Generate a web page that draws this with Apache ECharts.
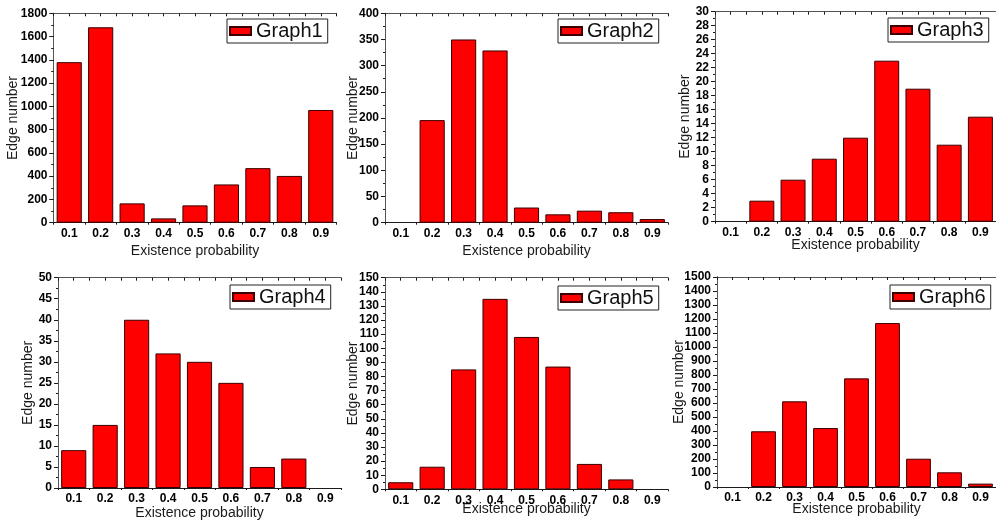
<!DOCTYPE html>
<html>
<head>
<meta charset="utf-8">
<script src="https://cdn.jsdelivr.net/npm/echarts@6/dist/echarts.min.js"></script>
<style>
  html, body { margin: 0; padding: 0; background: #fff; }
  #main { width: 996px; height: 527px; }
</style>
</head>
<body>
<div id="main"></div>
<script>
// x categories shared by every panel
var categories = ['0.1', '0.2', '0.3', '0.4', '0.5', '0.6', '0.7', '0.8', '0.9'];

// bar heights
var graph1 = [1380, 1680, 166, 37, 149, 329, 469, 402, 969];
var graph2 = [0, 196, 350, 329, 29, 16, 23, 20, 7];
var graph3 = [0, 3, 6, 9, 12, 23, 19, 11, 15];
var graph4 = [9, 15, 40, 32, 30, 25, 5, 7, 0];
var graph5 = [5, 16, 85, 135, 108, 87, 18, 7, 0];
var graph6 = [0, 398, 612, 421, 776, 1171, 202, 105, 24];

var names = ['Graph1', 'Graph2', 'Graph3', 'Graph4', 'Graph5', 'Graph6'];
var values = [graph1, graph2, graph3, graph4, graph5, graph6];
var yMax = [1800, 400, 30, 50, 150, 1500];
var yStep = [200, 50, 2, 5, 10, 100];

// layout of the six panels (px)
var grids = [
  [53.5, 13.3, 283, 209.4],
  [385, 13.3, 283, 209.4],
  [715, 11.7, 283, 210],
  [58, 277.7, 283, 210.3],
  [385, 277.7, 283, 211.6],
  [717, 277, 283, 210]
];
var yNameGap = [33, 25, 23, 23, 25, 31];
var xNameGap = [21, 21, 16, 18, 13, 15];
var legendPos = [[227, 19], [558, 19], [888, 18], [230, 285], [558, 286], [890, 285]];

var font = '"Liberation Sans", Arial, sans-serif';
var dark = '#1a1a1a';
var frame = '#555';

var option = {
  animation: false,
  backgroundColor: '#fff',
  grid: [], xAxis: [], yAxis: [], legend: [], series: []
};

for (var i = 0; i < 6; i++) {
  var g = grids[i];
  option.grid.push({ left: g[0], top: g[1], width: g[2], height: g[3], containLabel: false });

  // bottom category axis (bars + labels)
  option.xAxis.push({
    type: 'category', gridIndex: i, data: categories, position: 'bottom',
    name: 'Existence probability', nameLocation: 'middle', nameGap: xNameGap[i],
    nameMoveOverlap: false,
    nameTextStyle: { fontFamily: font, fontSize: 14, color: dark },
    axisLine: { lineStyle: { color: dark, width: 1 } },
    axisTick: { alignWithLabel: true, inside: false, length: 4, lineStyle: { color: dark } },
    axisLabel: { fontFamily: font, fontSize: 12, fontWeight: 'bold', color: '#000', margin: 5 },
    splitLine: { show: false }
  });
  // bottom minor ticks at the category boundaries
  option.xAxis.push({
    type: 'value', gridIndex: i, min: 0, max: 9, interval: 1, position: 'bottom',
    axisLine: { show: false },
    axisTick: { inside: false, length: 2, lineStyle: { color: dark } },
    axisLabel: { show: false }, splitLine: { show: false }
  });
  // top frame with inward ticks
  option.xAxis.push({
    type: 'value', gridIndex: i, min: 0, max: 9, interval: 0.5, position: 'top',
    axisLine: { show: true, lineStyle: { color: frame, width: 1 } },
    axisTick: { show: true, inside: true, length: 3, lineStyle: { color: dark } },
    axisLabel: { show: false }, splitLine: { show: false }
  });

  // left value axis
  option.yAxis.push({
    type: 'value', gridIndex: i, min: 0, max: yMax[i], interval: yStep[i], position: 'left',
    name: 'Edge number', nameLocation: 'middle', nameGap: yNameGap[i],
    nameMoveOverlap: false,
    nameTextStyle: { fontFamily: font, fontSize: 14, color: dark },
    axisLine: { show: true, lineStyle: { color: dark, width: 1 } },
    axisTick: { show: true, inside: false, length: 4, lineStyle: { color: dark } },
    minorTick: { show: true, splitNumber: 2, length: 2, lineStyle: { color: dark } },
    axisLabel: {
      fontFamily: font, fontSize: 12, fontWeight: 'bold', color: '#000', margin: 6,
      formatter: function (v) { return String(v); }
    },
    splitLine: { show: false }, minorSplitLine: { show: false }
  });
  // right frame
  option.yAxis.push({
    type: 'value', gridIndex: i, min: 0, max: yMax[i], interval: yStep[i], position: 'right',
    axisLine: { show: true, lineStyle: { color: frame, width: 1 } },
    axisTick: { show: true, inside: true, length: 4, lineStyle: { color: dark } },
    minorTick: { show: true, splitNumber: 2, length: 2, lineStyle: { color: dark } },
    axisLabel: { show: false }, splitLine: { show: false }, minorSplitLine: { show: false }
  });

  option.legend.push({
    data: [names[i]], left: legendPos[i][0], top: legendPos[i][1], orient: 'horizontal',
    padding: [2, 5, 2, 2], borderColor: '#222', borderWidth: 1, backgroundColor: '#fff',
    itemWidth: 21, itemHeight: 8, itemGap: 5, icon: 'rect',
    textStyle: { fontFamily: font, fontSize: 20, color: '#111', padding: [0, 0, 4, 0] }
  });

  option.series.push({
    name: names[i], type: 'bar',
    xAxisIndex: i * 3, yAxisIndex: i * 2,
    // empty bins are left undrawn, as in the original
    data: values[i].map(function (v) { return v === 0 ? null : v; }),
    barCategoryGap: '20%',
    itemStyle: { color: '#ff0000', borderColor: '#3a0000', borderWidth: 1 }
  });
}

var chart = echarts.init(document.getElementById('main'), null, { renderer: 'canvas' });
chart.setOption(option);
</script>
</body>
</html>
